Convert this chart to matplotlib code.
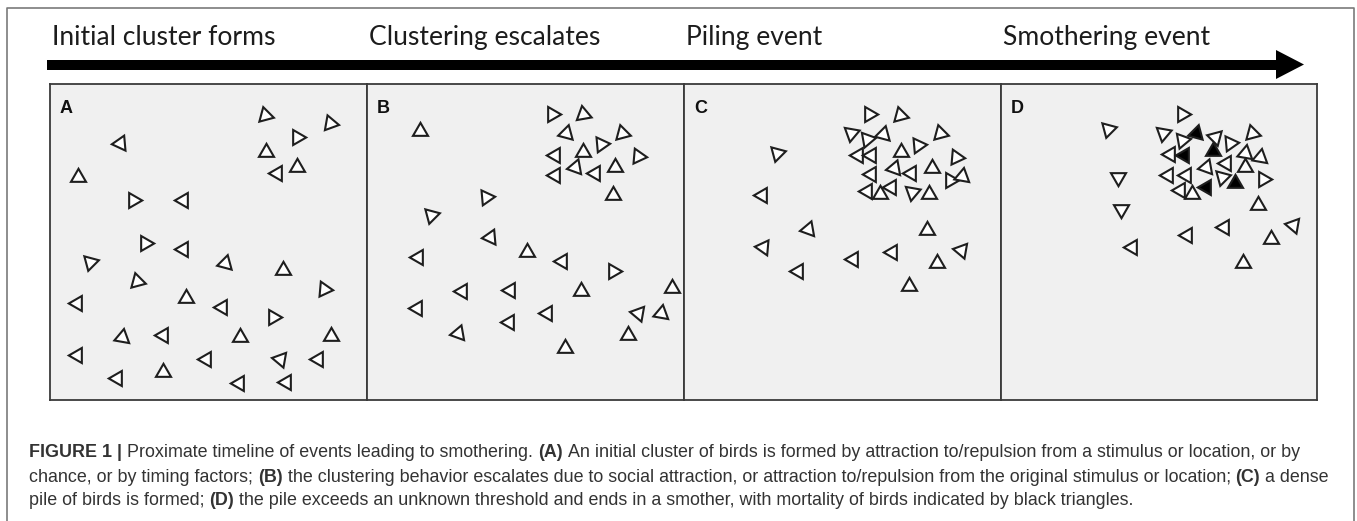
import matplotlib
matplotlib.use("Agg")
import matplotlib.pyplot as plt
from matplotlib.patches import Polygon

# ---- data (panel-local pixel positions, rotation of triangle in degrees: 0=up, 90=left, 180=down, 270=right)
TITLES = ["Initial cluster forms", "Clustering escalates", "Piling event", "Smothering event"]
PANEL_LABELS = ["A", "B", "C", "D"]

A_X = [215, 280, 247, 70, 216, 247, 227, 28, 83, 133, 95, 133, 40, 175, 233, 87, 274,
       27, 136, 172, 223, 72, 113, 190, 281, 27, 156, 230, 268, 67, 113, 189, 236]
A_Y = [31, 39, 53, 59, 68, 83, 89, 93, 116, 116, 159, 165, 178, 179, 186, 197, 205,
       219, 214, 223, 233, 253, 251, 253, 252, 271, 275, 275, 275, 294, 288, 299, 298]
A_ROT = [255, 260, 270, 95, 0, 0, 90, 0, 270, 90, 270, 90, 165, 345, 0, 255, 265,
         90, 0, 90, 270, 350, 90, 0, 0, 90, 90, 80, 90, 330, 0, 90, 90]

B_X = [185, 216, 53, 199, 255, 234, 188, 216, 271, 208, 228, 248, 188, 246, 119, 64, 123,
       160, 51, 195, 246, 95, 143, 214, 305, 50, 180, 271, 294, 91, 142, 261, 198]
B_Y = [30, 30, 47, 49, 49, 60, 71, 68, 72, 83, 89, 83, 91, 111, 113, 131, 153,
       168, 173, 177, 187, 207, 206, 207, 204, 224, 229, 229, 229, 249, 238, 251, 264]
B_ROT = [270, 250, 0, 105, 255, 275, 90, 0, 265, 340, 90, 0, 90, 0, 275, 165, 95,
         0, 90, 90, 270, 90, 90, 0, 0, 90, 90, 80, 350, 340, 90, 0, 0]

C_X = [185, 216, 167, 183, 199, 256, 93, 174, 187, 217, 234, 272, 210, 187, 227, 248, 266,
       278, 78, 183, 196, 207, 228, 245, 124, 243, 79, 208, 277, 169, 253, 114, 225]
C_Y = [30, 31, 49, 55, 50, 49, 69, 71, 71, 68, 61, 73, 84, 90, 89, 84, 96,
       92, 111, 107, 110, 103, 108, 110, 145, 146, 163, 168, 166, 175, 179, 187, 202]
C_ROT = [270, 255, 170, 160, 105, 255, 165, 90, 90, 0, 275, 265, 340, 90, 90, 0, 270,
         350, 90, 90, 0, 90, 290, 0, 100, 0, 85, 90, 80, 90, 0, 90, 0]

D_X = [181, 107, 162, 181, 195, 214, 229, 251, 244, 259, 169, 183, 212, 225, 205, 244, 167,
       185, 221, 117, 262, 205, 234, 179, 191, 120, 257, 223, 292, 186, 270, 131, 242]
D_Y = [30, 45, 49, 56, 49, 53, 59, 49, 69, 73, 70, 71, 67, 79, 83, 83, 91,
       91, 93, 93, 95, 103, 99, 106, 110, 125, 121, 143, 141, 151, 155, 163, 179]
D_ROT = [270, 165, 170, 160, 105, 195, 275, 255, 230, 350, 90, 90, 0, 90, 340, 0, 90,
         90, 285, 180, 270, 90, 0, 90, 0, 180, 0, 90, 80, 90, 0, 90, 0]
D_DEAD = [4, 11, 12, 21, 22]   # indices of birds drawn black (mortality)

CAPTION = [
    [("FIGURE 1 |", True), ("Proximate timeline of events leading to smothering.", False), ("(A)", True),
     ("An initial cluster of birds is formed by attraction to/repulsion from a stimulus or location, or by", False)],
    [("chance, or by timing factors;", False), ("(B)", True),
     ("the clustering behavior escalates due to social attraction, or attraction to/repulsion from the original stimulus or location;", False),
     ("(C)", True), ("a dense", False)],
    [("pile of birds is formed;", False), ("(D)", True),
     ("the pile exceeds an unknown threshold and ends in a smother, with mortality of birds indicated by black triangles.", False)],
]

PANELS = [(A_X, A_Y, A_ROT, []), (B_X, B_Y, B_ROT, []), (C_X, C_Y, C_ROT, []), (D_X, D_Y, D_ROT, D_DEAD)]

# ---- layout (pixels)
W, H = 1357, 521
PANEL_LEFT = [50, 367, 684, 1001]
PANEL_W = [317, 317, 317, 316]
PANEL_TOP, PANEL_H = 84, 316

fig = plt.figure(figsize=(W / 100, H / 100), dpi=100)
bg = fig.add_axes([0, 0, 1, 1])
bg.set_xlim(0, W)
bg.set_ylim(H, 0)
bg.axis("off")

# outer frame, open at the bottom
bg.plot([7, 7, 1354, 1354], [H, 8, 8, H], color="#7a7a7a", lw=1.2)

# timeline arrow
bg.add_patch(Polygon([(47, 60), (1276, 60), (1276, 50), (1304, 64.5), (1276, 79), (1276, 70), (47, 70)],
                     closed=True, color="black", lw=0))

renderer = fig.canvas.get_renderer()


def text_width(s, **kw):
    t = bg.text(0, 0, s, **kw)
    w = t.get_window_extent(renderer).width
    t.remove()
    return w


# stage titles, fitted to the width of the first one
title_kw = dict(family="Lato", color="#1c1c1c")
fs_title = 18 * 222 / text_width(TITLES[0], fontsize=18, **title_kw)
for left, title in zip(PANEL_LEFT, TITLES):
    bg.text(left + 2, 45, title, fontsize=fs_title, va="baseline", ha="left", **title_kw)

# panels
for i, (xs, ys, rots, dead) in enumerate(PANELS):
    left, w = PANEL_LEFT[i], PANEL_W[i]
    ax = fig.add_axes([left / W, 1 - (PANEL_TOP + PANEL_H) / H, w / W, PANEL_H / H])
    ax.set_facecolor("#f0f0f0")
    ax.set_xlim(0, w)
    ax.set_ylim(PANEL_H, 0)
    ax.set_xticks([])
    ax.set_yticks([])
    for sp in ax.spines.values():
        sp.set_color("#3a3a3a")
        sp.set_linewidth(1.3)
    for j, (x, y, r) in enumerate(zip(xs, ys, rots)):
        face = "black" if j in dead else "white"
        ax.plot(x, y, marker=(3, 0, r), ms=12.5, mfc=face, mec="#1e1e1e", mew=1.5, ls="none")
    ax.text(10, 29, PANEL_LABELS[i], fontsize=13, fontweight="bold", family="Liberation Sans",
            va="baseline", ha="left", color="#111111")

# caption with bold runs
cap_kw = dict(family="Liberation Sans", color="#333333")


def line_width(segs, fs):
    space = text_width("x x", fontsize=fs, **cap_kw) - text_width("xx", fontsize=fs, **cap_kw)
    total = 0
    for k, (s, b) in enumerate(segs):
        total += text_width(s, fontsize=fs, fontweight="bold" if b else "normal", **cap_kw)
        if k < len(segs) - 1:
            total += space
    return total


fs_cap = 12 * 1275 / line_width(CAPTION[0], 12)
space = text_width("x x", fontsize=fs_cap, **cap_kw) - text_width("xx", fontsize=fs_cap, **cap_kw)
for segs, base in zip(CAPTION, [457, 482, 505]):
    x = 29
    for s, b in segs:
        t = bg.text(x, base, s, fontsize=fs_cap, fontweight="bold" if b else "normal",
                    va="baseline", ha="left", **cap_kw)
        x += t.get_window_extent(renderer).width + space

fig.savefig("out.png", dpi=100)
